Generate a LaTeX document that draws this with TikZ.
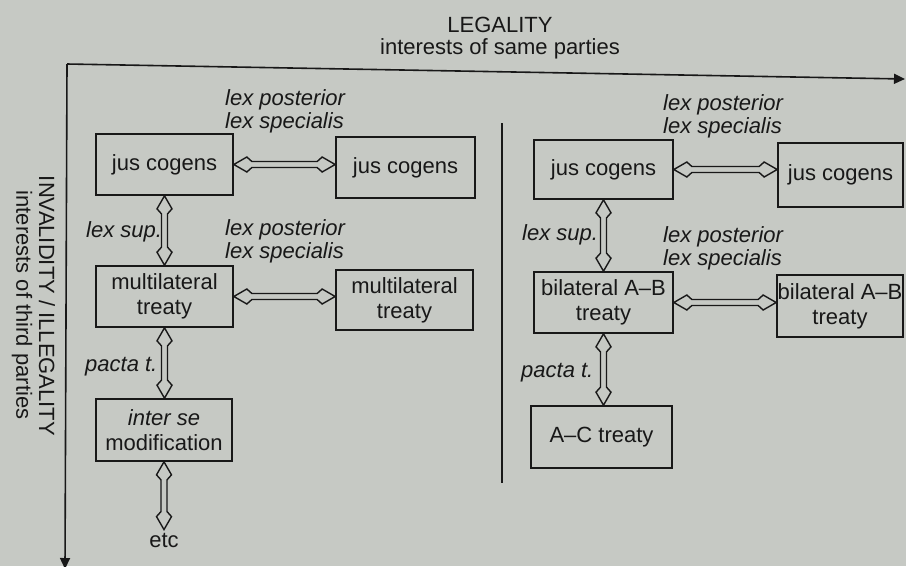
\documentclass[tikz,border=0pt]{standalone}
\usepackage{fontspec}
\setmainfont{Liberation Sans}
\usetikzlibrary{calc,arrows.meta}
\definecolor{paper}{RGB}{198,201,196}
\definecolor{ink}{RGB}{24,24,24}

% geometry of the hollow two-headed arrows
\newcommand\awl{13}   % distance from tip to the wing points
\newcommand\aww{7.5}  % half width of the head
\newcommand\ajl{18}   % distance from tip to where the head meets the shaft
\newcommand\asw{3}    % half width of the shaft
\newcommand\hollowlink[2]{%
  \draw[hollow] let \p1=(#1), \p2=(#2),
      \n1={veclen(\x2-\x1,\y2-\y1)},
      \n2={(\x2-\x1)/\n1}, \n3={(\y2-\y1)/\n1} in
    (\p1)
    -- ({\x1+\awl*\n2-\aww*\n3},{\y1+\awl*\n3+\aww*\n2})
    -- ({\x1+\ajl*\n2-\asw*\n3},{\y1+\ajl*\n3+\asw*\n2})
    -- ({\x2-\ajl*\n2-\asw*\n3},{\y2-\ajl*\n3+\asw*\n2})
    -- ({\x2-\awl*\n2-\aww*\n3},{\y2-\awl*\n3+\aww*\n2})
    -- (\p2)
    -- ({\x2-\awl*\n2+\aww*\n3},{\y2-\awl*\n3-\aww*\n2})
    -- ({\x2-\ajl*\n2+\asw*\n3},{\y2-\ajl*\n3-\asw*\n2})
    -- ({\x1+\ajl*\n2+\asw*\n3},{\y1+\ajl*\n3-\asw*\n2})
    -- ({\x1+\awl*\n2+\aww*\n3},{\y1+\awl*\n3-\aww*\n2})
    -- cycle;}

\begin{document}
\begin{tikzpicture}[x=1pt,y=-1pt,
  every node/.style={font=\fontsize{22}{25}\selectfont, text=ink},
  box/.style={draw=ink, line width=1.7pt, inner sep=0pt, align=center},
  lbl/.style={font=\fontsize{22}{23.5}\selectfont\itshape, align=left,
              anchor=west, inner sep=0pt},
  axis/.style={draw=ink, line width=1.6pt, -{Triangle[length=11pt,width=10pt]}},
  hollow/.style={draw=ink, fill=paper, line width=1.4pt, line join=miter}]

% sheet
\fill[paper] (0,0) rectangle (906,566);
\useasboundingbox (0,0) rectangle (906,566);

% axes
\coordinate (origin) at (67,64);
\coordinate (xend) at (905,79);
\coordinate (yend) at (65,569);
\draw[axis] (origin) -- (xend);
\draw[axis] (origin) -- (yend);

\node (legal) at (500,25) {LEGALITY};
\node (legalsub) at (500,49) {interests of same parties};
\node[rotate=-90] (invalid) at (47,306) {INVALIDITY / ILLEGALITY};
\node[rotate=-90] (invalidsub) at (22,305) {interests of third parties};

% divider between the two cases
\coordinate (divtop) at (502,123);
\coordinate (divbot) at (502,483);
\draw[ink, line width=1.5pt] (divtop) -- (divbot);

% multilateral case
\node[box, minimum width=137pt, minimum height=61pt] (jcL)  at (164.5,164.5) {jus cogens};
\node[box, minimum width=139pt, minimum height=61pt] (jcLR) at (405.5,167.5) {jus cogens};
\node[box, minimum width=137pt, minimum height=61pt] (mtL)  at (164.5,296.5) {multilateral\\treaty};
\node[box, minimum width=137pt, minimum height=60pt] (mtLR) at (404.5,300) {multilateral\\treaty};
\node[box, minimum width=136pt, minimum height=62pt] (isL)  at (164,430) {\textit{inter se}\\modification};
\node[inner sep=3pt] (etc) at (164,540) {etc};

\node[lbl] (lpL1) at (225,111.5) {lex posterior\\lex specialis};
\node[lbl] (lpL2) at (225,241.5) {lex posterior\\lex specialis};
\node[lbl] (lsL)  at (86,232) {lex sup.};
\node[lbl] (ptL)  at (85,367) {pacta t.};

\hollowlink{jcL.east}{jcL.east -| jcLR.west}
\hollowlink{mtL.east}{mtL.east -| mtLR.west}
\hollowlink{jcL.south}{jcL.south |- mtL.north}
\hollowlink{mtL.south}{mtL.south |- isL.north}
\hollowlink{isL.south}{isL.south |- etc.north}

% bilateral case
\node[box, minimum width=139pt, minimum height=59pt] (jcR)  at (603.5,169.5) {jus cogens};
\node[box, minimum width=125pt, minimum height=64pt] (jcRR) at (840.5,175) {jus cogens};
\node[box, minimum width=139pt, minimum height=61pt] (abR)  at (603.5,302.5) {bilateral A–B\\treaty};
\node[box, minimum width=126pt, minimum height=62pt] (abRR) at (840,306) {bilateral A–B\\treaty};
\node[box, minimum width=141pt, minimum height=62pt] (acR)  at (601.5,437) {A–C treaty};

\node[lbl] (lpR1) at (663,116.5) {lex posterior\\lex specialis};
\node[lbl] (lpR2) at (663,248.5) {lex posterior\\lex specialis};
\node[lbl] (lsR)  at (522,235) {lex sup.};
\node[lbl] (ptR)  at (521,373) {pacta t.};

\hollowlink{jcR.east}{jcR.east -| jcRR.west}
\hollowlink{abR.east}{abR.east -| abRR.west}
\hollowlink{jcR.south}{jcR.south |- abR.north}
\hollowlink{abR.south}{abR.south |- acR.north}

\end{tikzpicture}
\end{document}
